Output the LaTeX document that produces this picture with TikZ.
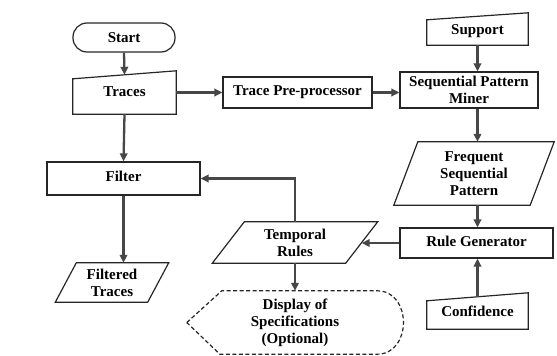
\documentclass[tikz,border=0pt]{standalone}
\usepackage{fontspec}
\setmainfont{Liberation Serif}
\newfontfamily\labelfont{Liberation Serif}[BoldFont={Liberation Serif Bold}]
\usetikzlibrary{arrows.meta}

\begin{document}
\begin{tikzpicture}[
    x=1pt, y=-1pt,
    font=\labelfont\fontsize{15}{17}\selectfont\bfseries,
    edge/.style={draw=black!85, line width=1.2pt},
    proc/.style={rectangle, edge, align=center, inner sep=0pt},
    term/.style={proc, rounded corners=14pt},
    io/.style={rectangle, align=center, inner sep=0pt},
    flow/.style={draw=black!72, line width=2.3pt, -{Triangle[length=8pt,width=7.5pt]}}
]
\useasboundingbox (0,0) rectangle (557,356);

%% left column
\node[term, minimum width=102pt, minimum height=29pt] (start) at (124,37.5) {Start};
\node[io, minimum width=103pt, minimum height=39pt] (traces) at (124.5,94.5) {\raisebox{5pt}{Traces}};
\draw[edge] ([yshift=-4pt]traces.north west) -- ([yshift=4pt]traces.north east)
    -- (traces.south east) -- (traces.south west) -- cycle;
\node[proc, minimum width=153pt, minimum height=33pt] (filter) at (123.5,178.5) {\raisebox{5pt}{Filter}};
\node[io, minimum width=92pt, minimum height=39pt] (filtered) at (112,282.5) {Filtered\\Traces};
\draw[edge] ([xshift=-10.5pt]filtered.south west) -- ([xshift=10.5pt]filtered.north west)
    -- ([xshift=10.5pt]filtered.north east) -- ([xshift=-10.5pt]filtered.south east) -- cycle;

%% middle
\node[proc, minimum width=149pt, minimum height=31pt] (prep) at (297.5,92.5) {\raisebox{3pt}{Trace Pre-processor}};
\node[io, minimum width=133pt, minimum height=41pt] (temporal) at (295,242.5) {Temporal\\Rules};
\draw[edge] ([xshift=-16pt]temporal.south west) -- ([xshift=16pt]temporal.north west)
    -- ([xshift=16pt]temporal.north east) -- ([xshift=-16pt]temporal.south east) -- cycle;
\node[io, minimum width=216pt, minimum height=63pt] (display) at (295,322.5) {Display of\\Specifications\\(Optional)};
\draw[edge, dashed, dash pattern=on 4pt off 2.5pt] (display.west) -- ([xshift=35pt]display.north west)
    -- ([xshift=-26pt]display.north east)
    .. controls ([xshift=9pt]display.north east) and ([xshift=9pt]display.south east) ..
    ([xshift=-26pt]display.south east) -- ([xshift=33pt]display.south west) -- cycle;

%% right column
\node[io, minimum width=101pt, minimum height=28.5pt] (support) at (477.5,30.75) {Support};
\draw[edge] ([yshift=-3.5pt]support.north west) -- ([yshift=3.5pt]support.north east)
    -- (support.south east) -- (support.south west) -- cycle;
\node[proc, minimum width=138pt, minimum height=36pt] (miner) at (469,90) {Sequential Pattern\\Miner};
\node[io, minimum width=136pt, minimum height=63pt] (frequent) at (474,173.5) {Frequent\\Sequential\\Pattern};
\draw[edge] ([xshift=-12pt]frequent.south west) -- ([xshift=12pt]frequent.north west)
    -- ([xshift=12pt]frequent.north east) -- ([xshift=-12pt]frequent.south east) -- cycle;
\node[proc, minimum width=153pt, minimum height=30pt] (rulegen) at (476.5,243) {\raisebox{4pt}{Rule Generator}};
\node[io, minimum width=101pt, minimum height=32pt] (confidence) at (477.5,313) {\raisebox{3pt}{Confidence}};
\draw[edge] ([yshift=-4pt]confidence.north west) -- ([yshift=4pt]confidence.north east)
    -- (confidence.south east) -- (confidence.south west) -- cycle;

%% connectors
\draw[flow] (start.south) -- (traces.north);
\draw[flow] (traces.east |- prep) -- (prep);
\draw[flow] (prep.east) -- (prep.east -| miner.west);
\draw[flow] (support.south) -- (support |- miner.north);
\draw[flow] (support |- miner.south) -- (support |- frequent.north);
\draw[flow] (support |- frequent.south) -- (support |- rulegen.north);
\draw[flow] (confidence.north) -- (confidence |- rulegen.south);
\draw[flow] (rulegen.west) -- (rulegen.west -| temporal.east);
\draw[flow] (temporal.south) -- (display.north);
\draw[flow] (temporal.north) |- (filter.east);
\draw[flow] (traces.south) -- (filter.north);
\draw[flow] (filter.south) -- (filter.south |- filtered.north);
\end{tikzpicture}
\end{document}
